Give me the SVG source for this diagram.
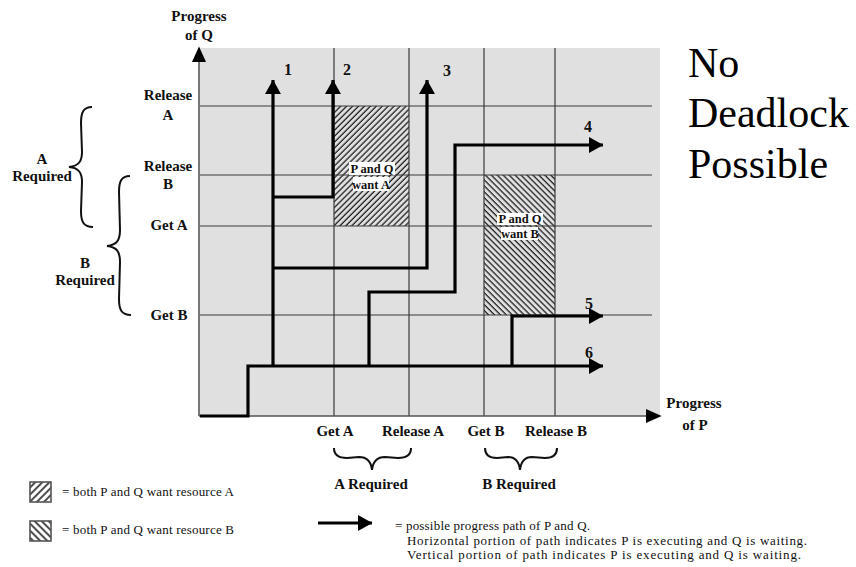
<svg xmlns="http://www.w3.org/2000/svg" width="856" height="567" viewBox="0 0 856 567">
<defs>
<style>
.lbl{font-family:"Liberation Serif","Times New Roman",serif;font-weight:bold;font-size:15px;fill:#111;text-anchor:middle}
.num{font-family:"Liberation Serif","Times New Roman",serif;font-weight:bold;font-size:16px;fill:#111}
.hl{font-family:"Liberation Serif","Times New Roman",serif;font-weight:bold;font-size:12.5px;fill:#111;text-anchor:middle}
.leg{font-family:"Liberation Serif","Times New Roman",serif;font-size:13px;fill:#111}
.big{font-family:"Liberation Serif","Times New Roman",serif;font-size:42px;fill:#000}
.grid{stroke:#3a3a3a;stroke-width:1.2;fill:none}
.axis{stroke:#555;stroke-width:1.6;fill:none}
.path{stroke:#000;stroke-width:3.2;fill:none;stroke-linejoin:miter}
.brace{stroke:#111;stroke-width:2;fill:none}
</style>
<pattern id="hatchA" width="4.2" height="4.2" patternUnits="userSpaceOnUse" patternTransform="rotate(45)">
<rect width="4.2" height="4.2" fill="#e0e0e0"/>
<line x1="1" y1="0" x2="1" y2="4.2" stroke="#000" stroke-width="1.1"/>
</pattern>
<pattern id="hatchB" width="4.2" height="4.2" patternUnits="userSpaceOnUse" patternTransform="rotate(-45)">
<rect width="4.2" height="4.2" fill="#e0e0e0"/>
<line x1="1" y1="0" x2="1" y2="4.2" stroke="#000" stroke-width="1.1"/>
</pattern>
<pattern id="legA" width="5" height="5" patternUnits="userSpaceOnUse" patternTransform="rotate(45)">
<rect width="5" height="5" fill="#fff"/>
<line x1="1" y1="0" x2="1" y2="5" stroke="#222" stroke-width="1.6"/>
</pattern>
<pattern id="legB" width="5" height="5" patternUnits="userSpaceOnUse" patternTransform="rotate(-45)">
<rect width="5" height="5" fill="#fff"/>
<line x1="1" y1="0" x2="1" y2="5" stroke="#222" stroke-width="1.6"/>
</pattern>
<marker id="arr" markerWidth="5" markerHeight="5" refX="4.4" refY="2.5" orient="auto" markerUnits="strokeWidth">
<path d="M0,0 L4.5,2.5 L0,5 Z" fill="#000"/>
</marker>
<marker id="axarr" markerWidth="10" markerHeight="10" refX="9" refY="5" orient="auto" markerUnits="strokeWidth">
<path d="M0,0.5 L10,5 L0,9.5 Z" fill="#000"/>
</marker>
</defs>

<rect width="856" height="567" fill="#fff"/>

<g id="plot">
<rect x="200" y="48" width="460" height="368" fill="#e0e0e0"/>
<rect id="regionA" x="334" y="106" width="75" height="120" fill="url(#hatchA)"/>
<rect id="regionB" x="484" y="175" width="71" height="140" fill="url(#hatchB)"/>
<g id="gridlines">
<line class="grid" x1="200" y1="106" x2="652" y2="106"/>
<line class="grid" x1="200" y1="175" x2="652" y2="175"/>
<line class="grid" x1="200" y1="226" x2="652" y2="226"/>
<line class="grid" x1="200" y1="315" x2="652" y2="315"/>
<line class="grid" x1="334" y1="48" x2="334" y2="416"/>
<line class="grid" x1="409" y1="48" x2="409" y2="416"/>
<line class="grid" x1="484" y1="48" x2="484" y2="416"/>
<line class="grid" x1="555" y1="48" x2="555" y2="416"/>
</g>
<g id="axes">
<line class="axis" x1="199" y1="416" x2="199" y2="48" marker-end="url(#axarr)"/>
<line class="axis" x1="199" y1="416" x2="660" y2="416" marker-end="url(#axarr)"/>
</g>
<g id="regionA-label">
<rect x="349" y="162" width="46" height="13" fill="#fff"/>
<rect x="353" y="177" width="36" height="14" fill="#fff"/>
<text class="hl" x="372" y="173">P and Q</text>
<text class="hl" x="371" y="189">want A</text>
</g>
<g id="regionB-label">
<rect x="497" y="213" width="46" height="12" fill="#fff"/>
<rect x="501" y="227" width="37" height="13" fill="#fff"/>
<text class="hl" x="520" y="223">P and Q</text>
<text class="hl" x="520" y="238">want B</text>
</g>
</g>

<g id="connectors">
<path id="p6" class="path" d="M200,416 H248 V366 H603" marker-end="url(#arr)"/>
<path id="p1" class="path" d="M273,366 V80" marker-end="url(#arr)"/>
<path id="p2" class="path" d="M273,197 H333 V80" marker-end="url(#arr)"/>
<path id="p3" class="path" d="M273,268 H427 V80" marker-end="url(#arr)"/>
<path id="p4" class="path" d="M369,366 V292 H455 V145 H603" marker-end="url(#arr)"/>
<path id="p5" class="path" d="M512,366 V316 H603" marker-end="url(#arr)"/>
</g>

<g id="path-numbers">
<text class="num" x="284" y="75">1</text>
<text class="num" x="343" y="75">2</text>
<text class="num" x="443" y="76">3</text>
<text class="num" x="584" y="132">4</text>
<text class="num" x="585" y="309">5</text>
<text class="num" x="585" y="358">6</text>
</g>

<g id="q-labels">
<text class="lbl" x="199" y="21">Progress</text>
<text class="lbl" x="199" y="40">of Q</text>
<text class="lbl" x="168" y="100">Release</text>
<text class="lbl" x="168" y="120">A</text>
<text class="lbl" x="168" y="171">Release</text>
<text class="lbl" x="168" y="189">B</text>
<text class="lbl" x="169" y="230">Get A</text>
<text class="lbl" x="169" y="320">Get B</text>
</g>

<g id="q-braces">
<path class="brace" d="M92,107 C83,107 81,113 81,123 L82,152 C82,161 79,166 69,167 C79,168 82,173 82,182 L81,211 C81,221 83,227 93,227"/>
<text class="lbl" x="42" y="164">A</text>
<text class="lbl" x="42" y="181">Required</text>
<path class="brace" d="M130,176 C121,176 119,182 119,192 L120,230 C120,240 117,245 107,246 C117,247 120,252 120,262 L119,299 C119,309 121,315 131,315"/>
<text class="lbl" x="85" y="268">B</text>
<text class="lbl" x="85" y="285">Required</text>
</g>

<g id="p-labels">
<text class="lbl" x="694" y="408">Progress</text>
<text class="lbl" x="695" y="430">of P</text>
<text class="lbl" x="335" y="436">Get A</text>
<text class="lbl" x="413" y="436">Release A</text>
<text class="lbl" x="486" y="436">Get B</text>
<text class="lbl" x="556" y="436">Release B</text>
</g>

<g id="p-braces">
<path class="brace" d="M334,448 C334,455 338,458 347,458 L359,457 C367,457 371,461 372,470 C373,461 377,457 385,457 L398,458 C407,458 411,455 411,448"/>
<text class="lbl" x="371" y="489">A Required</text>
<path class="brace" d="M485,448 C485,455 489,458 497,458 L508,457 C515,457 519,461 520,470 C521,461 525,457 532,457 L545,458 C553,458 557,455 557,448"/>
<text class="lbl" x="519" y="489">B Required</text>
</g>

<g id="title">
<text class="big" x="688" y="77">No</text>
<text class="big" x="688" y="127">Deadlock</text>
<text class="big" x="688" y="178">Possible</text>
</g>

<g id="legend">
<rect x="30" y="482" width="21" height="20" fill="url(#legA)" stroke="#555" stroke-width="1.6"/>
<text class="leg" x="62" y="496" textLength="172" lengthAdjust="spacing">= both P and Q want resource A</text>
<rect x="30" y="521" width="21" height="20" fill="url(#legB)" stroke="#555" stroke-width="1.6"/>
<text class="leg" x="62" y="534" textLength="172" lengthAdjust="spacing">= both P and Q want resource B</text>
<line x1="318" y1="523" x2="372" y2="523" stroke="#000" stroke-width="3.2" marker-end="url(#arr)"/>
<text class="leg" x="395" y="530" textLength="195" lengthAdjust="spacing">= possible progress path of P and Q.</text>
<text class="leg" x="407" y="545" textLength="400" lengthAdjust="spacing">Horizontal portion of path indicates P is executing and Q is waiting.</text>
<text class="leg" x="407" y="559" textLength="394" lengthAdjust="spacing">Vertical portion of path indicates P is executing and Q is waiting.</text>
</g>
</svg>
